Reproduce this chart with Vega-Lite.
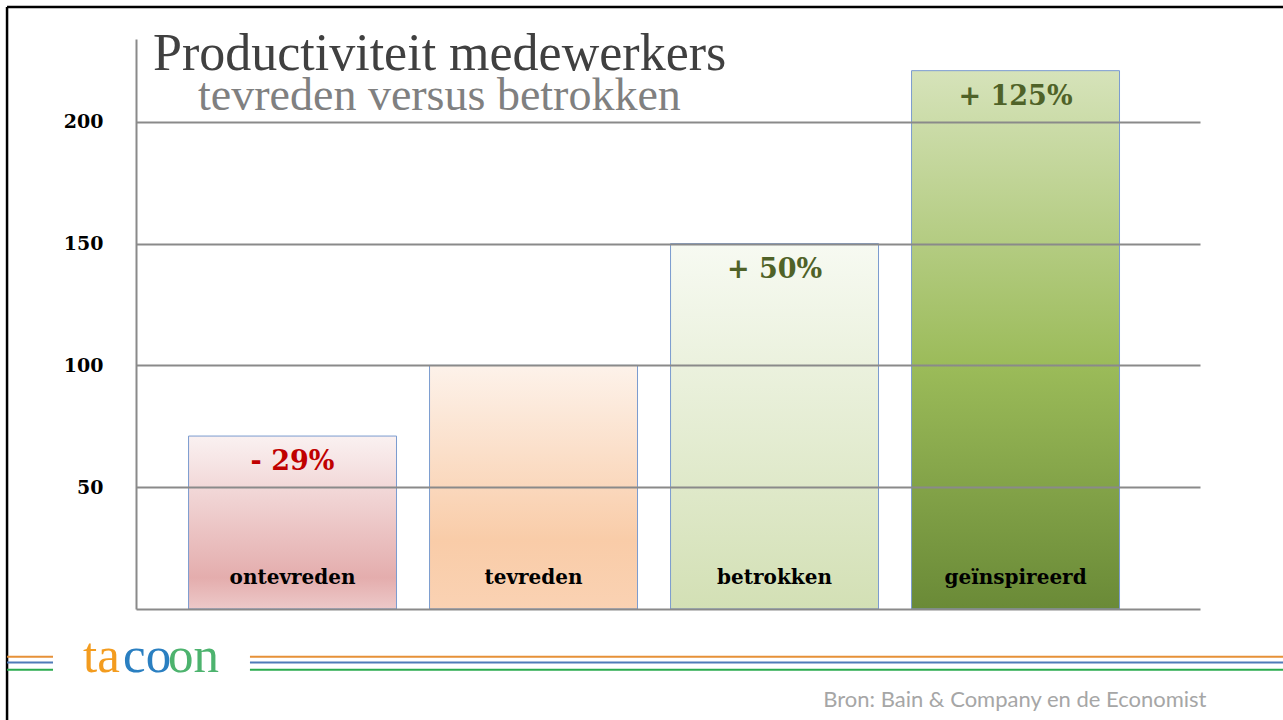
{
  "$schema": "https://vega.github.io/schema/vega-lite/v6.json",
  "width": 1064,
  "height": 570,
  "autosize": {"type": "none"},
  "padding": {"left": 136, "top": 39, "right": 83, "bottom": 111},
  "background": "white",
  "config": {"view": {"stroke": null}},
  "title": {
    "text": "Productiviteit medewerkers",
    "anchor": "start",
    "frame": "group",
    "orient": "top",
    "offset": -75,
    "dx": 17,
    "font": "Liberation Serif",
    "fontSize": 52,
    "fontWeight": "normal",
    "color": "#404040"
  },
  "data": {
    "values": [
      {"cat": "ontevreden", "value": 71, "change": "- 29%"},
      {"cat": "tevreden", "value": 100, "change": ""},
      {"cat": "betrokken", "value": 150, "change": "+ 50%"},
      {"cat": "geïnspireerd", "value": 221, "change": "+ 125%"}
    ]
  },
  "resolve": {"scale": {"x": "independent"}},
  "layer": [
    {
      "layer": [
        {
          "mark": {"type": "bar", "stroke": "#7a9bcf", "strokeWidth": 1},
          "encoding": {
            "x": {
              "field": "cat", "type": "nominal", "sort": null,
              "scale": {"paddingInner": 0.137, "paddingOuter": 0.276, "align": 0.395},
              "axis": {
                "orient": "bottom", "labels": false, "ticks": false, "grid": false,
                "domain": true, "domainColor": "#8a8a8a", "domainWidth": 2,
                "title": "Bron: Bain & Company en de Economist",
                "titleFont": "Lato", "titleFontSize": 22, "titleFontWeight": "normal",
                "titleColor": "#a6a6a6", "titleAnchor": "end", "titleAlign": "right",
                "titleX": 1070,
                "titleBaseline": "top", "titlePadding": 80, "zindex": 1
              }
            },
            "y": {
              "field": "value", "type": "quantitative",
              "scale": {"domain": [0, 234], "nice": false, "zero": true},
              "axis": {
                "values": [50, 100, 150, 200], "title": null, "ticks": false,
                "domain": true, "domainColor": "#8a8a8a", "domainWidth": 2,
                "grid": true, "gridColor": "#8a8a8a", "gridWidth": 2, "gridOpacity": 1,
                "labelFont": "DejaVu Serif", "labelFontWeight": "bold", "labelFontSize": 19,
                "labelColor": "#000000", "labelPadding": 33, "zindex": 1
              }
            },
            "fill": {
              "condition": [
                {"test": "datum.cat === 'ontevreden'", "value": {"gradient": "linear", "x1": 0, "y1": 0, "x2": 0, "y2": 1, "stops": [{"offset": 0, "color": "#faf1f1"}, {"offset": 0.82, "color": "#e4adad"}, {"offset": 1, "color": "#edc9c9"}]}},
                {"test": "datum.cat === 'tevreden'", "value": {"gradient": "linear", "x1": 0, "y1": 0, "x2": 0, "y2": 1, "stops": [{"offset": 0, "color": "#fdf2ea"}, {"offset": 0.72, "color": "#f9cca8"}, {"offset": 1, "color": "#fad2b3"}]}},
                {"test": "datum.cat === 'betrokken'", "value": {"gradient": "linear", "x1": 0, "y1": 0, "x2": 0, "y2": 1, "stops": [{"offset": 0, "color": "#f7faf2"}, {"offset": 1, "color": "#d3e0b5"}]}}
              ],
              "value": {"gradient": "linear", "x1": 0, "y1": 0, "x2": 0, "y2": 1, "stops": [{"offset": 0, "color": "#d6e3ba"}, {"offset": 0.55, "color": "#9bbb59"}, {"offset": 1, "color": "#6a8a37"}]}
            }
          }
        },
        {
          "mark": {"type": "text", "font": "DejaVu Serif", "fontWeight": "bold", "fontSize": 20, "color": "#000000", "baseline": "alphabetic", "dy": -25},
          "encoding": {
            "x": {"field": "cat", "type": "nominal", "sort": null},
            "y": {"datum": 0, "type": "quantitative"},
            "text": {"field": "cat"}
          }
        },
        {
          "transform": [{"filter": "datum.change !== ''"}],
          "mark": {"type": "text", "font": "DejaVu Serif", "fontWeight": "bold", "fontSize": 27, "baseline": "alphabetic", "dy": 34},
          "encoding": {
            "x": {"field": "cat", "type": "nominal", "sort": null},
            "y": {"field": "value", "type": "quantitative"},
            "text": {"field": "change"},
            "color": {"condition": {"test": "datum.value < 100", "value": "#c00000"}, "value": "#4f6228"}
          }
        }
      ]
    },
    {
      "data": {"values": [{}]},
      "layer": [
        {
          "mark": {"type": "rule", "color": "#000000", "strokeWidth": 2.5},
          "encoding": {
            "x": {"datum": -0.1212, "type": "quantitative", "scale": {"domain": [0, 1], "nice": false, "zero": false}, "axis": null},
            "x2": {"datum": 1.1},
            "y": {"datum": 247.1, "type": "quantitative"}
          }
        },
        {
          "mark": {"type": "rule", "color": "#000000", "strokeWidth": 2.5},
          "encoding": {
            "x": {"datum": -0.1212, "type": "quantitative"},
            "y": {"datum": 247.1, "type": "quantitative"},
            "y2": {"datum": -50}
          }
        },
        {
          "mark": {"type": "text", "font": "Liberation Serif", "fontSize": 46, "align": "left", "baseline": "alphabetic", "color": "#808080"},
          "encoding": {"x": {"datum": 0.0583, "type": "quantitative"}, "y": {"datum": 204.9, "type": "quantitative"}, "text": {"value": "tevreden versus betrokken"}}
        },
        {
          "mark": {"type": "rule", "color": "#e69138", "strokeWidth": 2},
          "encoding": {"x": {"datum": -0.1212, "type": "quantitative"}, "x2": {"datum": -0.078}, "y": {"datum": -19.6, "type": "quantitative"}}
        },
        {
          "mark": {"type": "rule", "color": "#4f7bb8", "strokeWidth": 2},
          "encoding": {"x": {"datum": -0.1212, "type": "quantitative"}, "x2": {"datum": -0.078}, "y": {"datum": -22.0, "type": "quantitative"}}
        },
        {
          "mark": {"type": "rule", "color": "#2bab4f", "strokeWidth": 2},
          "encoding": {"x": {"datum": -0.1212, "type": "quantitative"}, "x2": {"datum": -0.078}, "y": {"datum": -24.9, "type": "quantitative"}}
        },
        {
          "mark": {"type": "rule", "color": "#e69138", "strokeWidth": 2},
          "encoding": {"x": {"datum": 0.1071, "type": "quantitative"}, "x2": {"datum": 1.1}, "y": {"datum": -19.6, "type": "quantitative"}}
        },
        {
          "mark": {"type": "rule", "color": "#4f7bb8", "strokeWidth": 2},
          "encoding": {"x": {"datum": 0.1071, "type": "quantitative"}, "x2": {"datum": 1.1}, "y": {"datum": -22.0, "type": "quantitative"}}
        },
        {
          "mark": {"type": "rule", "color": "#2bab4f", "strokeWidth": 2},
          "encoding": {"x": {"datum": 0.1071, "type": "quantitative"}, "x2": {"datum": 1.1}, "y": {"datum": -24.9, "type": "quantitative"}}
        },
        {
          "mark": {"type": "text", "font": "Liberation Serif", "fontSize": 51, "align": "left", "baseline": "alphabetic", "color": "#f39c1f"},
          "encoding": {"x": {"datum": -0.0498, "type": "quantitative"}, "y": {"datum": -25.9, "type": "quantitative"}, "text": {"value": "ta"}}
        },
        {
          "mark": {"type": "text", "font": "Liberation Serif", "fontSize": 51, "align": "left", "baseline": "alphabetic", "color": "#2a7fc1"},
          "encoding": {"x": {"datum": -0.0122, "type": "quantitative"}, "y": {"datum": -25.9, "type": "quantitative"}, "text": {"value": "co"}}
        },
        {
          "mark": {"type": "text", "font": "Liberation Serif", "fontSize": 51, "align": "left", "baseline": "alphabetic", "color": "#4db36e"},
          "encoding": {"x": {"datum": 0.0301, "type": "quantitative"}, "y": {"datum": -25.9, "type": "quantitative"}, "text": {"value": "on"}}
        }
      ]
    }
  ]
}
